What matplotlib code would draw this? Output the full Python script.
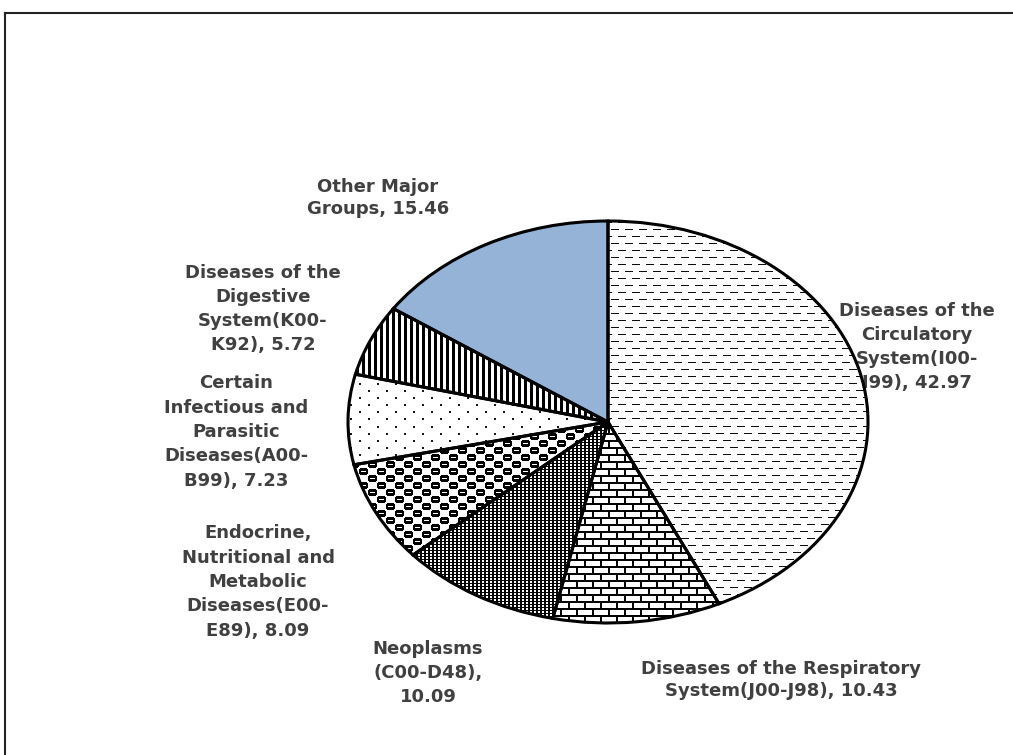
import matplotlib.pyplot as plt
import numpy as np
from matplotlib.lines import Line2D

# data
labels = ['Diseases of the\nCirculatory\nSystem(I00-\nI99), 42.97',
          'Diseases of the Respiratory\nSystem(J00-J98), 10.43',
          'Neoplasms\n(C00-D48),\n10.09',
          'Endocrine,\nNutritional and\nMetabolic\nDiseases(E00-\nE89), 8.09',
          'Certain\nInfectious and\nParasitic\nDiseases(A00-\nB99), 7.23',
          'Diseases of the\nDigestive\nSystem(K00-\nK92), 5.72',
          'Other Major\nGroups, 15.46']
values = [42.97, 10.43, 10.09, 8.09, 7.23, 5.72, 15.46]
patterns = ['dash', 'brick', 'grid', 'sphere', 'dots', 'vert', None]
colors = ['white'] * 6 + ['#95b3d7']
# label centres in data units (pie radius = 1)
label_pos = [(1.188, 0.373), (0.665, -1.284), (-0.692, -1.249), (-1.346, -0.796),
             (-1.431, -0.050), (-1.327, 0.562), (-0.885, 1.114)]
label_ls = [1.45, 1.3, 1.45, 1.45, 1.45, 1.45, 1.3]


def make_tile(name):
    if name == 'dash':
        t = np.ones((14, 14))
        t[0, 0:8] = 0.05
        t[7, 7:14] = 0.05
        t[7, 0:1] = 0.05
    elif name == 'brick':
        t = np.ones((14, 16))
        t[0:2, :] = 0
        t[7:9, :] = 0
        t[2:7, 0:2] = 0
        t[9:14, 8:10] = 0
    elif name == 'grid':
        t = np.ones((3, 4))
        t[0, :] = 0
        t[:, 0:2] = 0
    elif name == 'sphere':
        blob = [".XXXXXXX.",
                "XXXXXXXXX",
                "XXXXXXXXX",
                "XX.....XX",
                "XXXXXXXXX",
                "XXXXXXXXX",
                ".XXXXXXX."]
        cell = np.array([[0.0 if c == 'X' else 1.0 for c in row] for row in blob])
        white = np.ones((7, 9))
        t = np.block([[cell, white], [white, cell]])
    elif name == 'dots':
        t = np.ones((14, 18))
        t[0:2, 0:2] = 0.1
        t[7:9, 9:11] = 0.1
    elif name == 'vert':
        t = np.ones((1, 6))
        t[:, 0:3] = 0
    return t


W, H = 1013, 755
fig = plt.figure(figsize=(W / 100, H / 100), dpi=100)

# pie centre / radii in pixels
cx, cy, rx, ry = 608, 422, 260, 201
m = 1.2
ax = fig.add_axes([(cx - rx * m) / W, (H - cy - ry * m) / H, 2 * rx * m / W, 2 * ry * m / H])

wedges, _ = ax.pie(values, colors=colors, startangle=90, counterclock=False,
                   wedgeprops=dict(edgecolor='none', linewidth=0))

ih, iw = int(round(2 * ry * m)), int(round(2 * rx * m))
for w, p in zip(wedges, patterns):
    if p is None:
        continue
    t = make_tile(p)
    img = np.tile(t, (ih // t.shape[0] + 1, iw // t.shape[1] + 1))[:ih, :iw]
    im = ax.imshow(img, cmap='gray', vmin=0, vmax=1, extent=(-m, m, -m, m),
                   aspect='auto', interpolation='nearest', zorder=2)
    im.set_clip_path(w)

ax.pie(values, startangle=90, counterclock=False,
       wedgeprops=dict(fill=False, edgecolor='black', linewidth=2.2, zorder=3))

for lab, (x, y), ls in zip(labels, label_pos, label_ls):
    ax.text(x, y, lab, ha='center', va='center', fontsize=13, fontweight='bold',
            color='#404040', linespacing=ls, zorder=0.5)

ax.set_aspect('auto')
ax.set_xlim(-m, m)
ax.set_ylim(-m, m)
ax.axis('off')

# chart area frame (left and top edges visible)
fig.add_artist(Line2D([5 / W, 5 / W], [0, 1 - 13 / H], transform=fig.transFigure, color='#222222', lw=1.5))
fig.add_artist(Line2D([5 / W, 1], [1 - 13 / H, 1 - 13 / H], transform=fig.transFigure, color='#222222', lw=1.5))

plt.savefig('out.png', dpi=100)
